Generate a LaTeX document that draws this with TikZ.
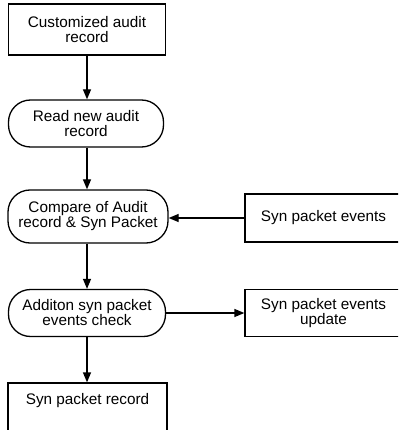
\documentclass[tikz,border=0pt]{standalone}
\usepackage{fontspec}
\setmainfont{Liberation Sans}
\usetikzlibrary{arrows.meta}
\begin{document}
\begin{tikzpicture}[x=1pt,y=-1pt,
  every node/.style={font=\fontsize{15.3}{15}\selectfont, align=center, inner sep=0pt},
  sqbox/.style={draw, line width=1.3pt, rectangle},
  rbox/.style={draw, line width=1.3pt, rectangle, rounded corners=22pt},
  arr/.style={line width=1.3pt, -{Triangle[length=10pt,width=8pt]}}]
\useasboundingbox (0,0) rectangle (398,430);
\clip (0,0) rectangle (398,430);
\fill[white] (0,0) rectangle (398,430);
\node[sqbox, minimum width=157pt, minimum height=51pt] (n1) at (87,29.5) {Customized audit\\record};
\node[rbox, minimum width=155pt, minimum height=47pt] (n2) at (86,123.5) {Read new audit\\record};
\node[rbox, minimum width=160pt, minimum height=53pt] (n3) at (88,216.5) {Compare of Audit\\record \& Syn Packet};
\node[rbox, minimum width=157pt, minimum height=47pt] (n4) at (87,313) {Additon syn packet\\events check};
\node[sqbox, minimum width=159pt, minimum height=80pt] (n5) at (87.5,423) {};
\node (n5t) at (87.5,401) {Syn packet record};
\node[sqbox, minimum width=157pt, minimum height=48pt] (n6) at (323.5,218) {Syn packet events};
\node[sqbox, minimum width=157pt, minimum height=47pt] (n7) at (323.5,313) {Syn packet events\\update};
\draw[arr] (n1.south) -- (n1.south |- n2.north);
\draw[arr] (n2.south -| n1.south) -- (n1.south |- n3.north);
\draw[arr] (n3.south -| n1.south) -- (n1.south |- n4.north);
\draw[arr] (n4.south -| n1.south) -- (n1.south |- n5.north);
\draw[arr] (n6.west) -- (n6.west -| n3.east);
\draw[arr] (n4.east) -- (n4.east -| n7.west);
\end{tikzpicture}
\end{document}
